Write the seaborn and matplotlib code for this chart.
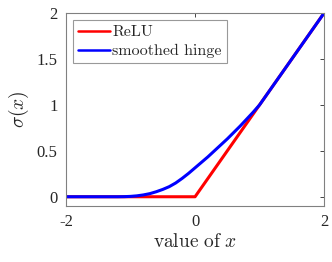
import pandas as pd
import matplotlib
matplotlib.use("Agg")
import matplotlib.pyplot as plt
import seaborn as sns

# values
relu_x = [-2, 0, 2]
relu_y = [0, 0, 2]
hinge_x = [-2, -1.2, -1.1, -1.0, -0.9, -0.8, -0.7, -0.6, -0.5, -0.4, -0.3, -0.2, -0.1,
           0, 0.1, 0.2, 0.3, 0.4, 0.5, 0.6, 0.7, 0.8, 0.9, 1.0, 2]
hinge_y = [0, 0, 0.001, 0.004, 0.01, 0.02, 0.034, 0.055, 0.08, 0.11, 0.15, 0.2, 0.255,
           0.315, 0.375, 0.435, 0.5, 0.565, 0.63, 0.7, 0.77, 0.845, 0.92, 1.0, 2]
x_ticks = [-2, 0, 2]
y_ticks = [0, 0.5, 1, 1.5, 2]
y_tick_labels = ["0", "0.5", "1", "1.5", "2"]

df = pd.concat([
    pd.DataFrame({"x": relu_x, "y": relu_y, "curve": "ReLU"}),
    pd.DataFrame({"x": hinge_x, "y": hinge_y, "curve": "smoothed hinge"}),
])

sns.set_style("white")
plt.rcParams["font.family"] = ["Liberation Serif", "DejaVu Serif"]
plt.rcParams["mathtext.fontset"] = "cm"

fig = plt.figure(figsize=(3.32, 2.62), dpi=100)
ax = fig.add_axes([0.199, 0.214, 0.777, 0.736])
sns.lineplot(data=df, x="x", y="y", hue="curve", palette=["#ff0000", "#0000ff"],
             linewidth=2.2, ax=ax, sort=False, estimator=None)

ax.set_xlim(-2, 2)
ax.set_ylim(-0.1, 2)
ax.set_xticks(x_ticks)
ax.set_xticklabels([str(t) for t in x_ticks])
ax.set_yticks(y_ticks)
ax.set_yticklabels(y_tick_labels)
ax.tick_params(direction="in", length=3, width=0.6, colors="#262626", labelsize=12,
               top=True, right=True, pad=6)
for s in ax.spines.values():
    s.set_color("#808080")
    s.set_linewidth(0.8)

ax.set_xlabel(r"$\mathrm{value\ of}\ x$", fontsize=14, color="#262626", labelpad=2)
ax.set_ylabel(r"$\sigma(x)$", fontsize=14, color="#262626", labelpad=4)

leg = ax.legend(loc="upper left", frameon=True, fancybox=False,
                handlelength=2.0, handletextpad=0.15, borderpad=0.3, labelspacing=0.3,
                borderaxespad=0.45, prop={"family": "cmr10", "size": 11.5})
leg.get_frame().set_edgecolor("#808080")
leg.get_frame().set_linewidth(0.8)
for line in leg.get_lines():
    line.set_linewidth(1.8)

fig.savefig("out.png", dpi=100)
